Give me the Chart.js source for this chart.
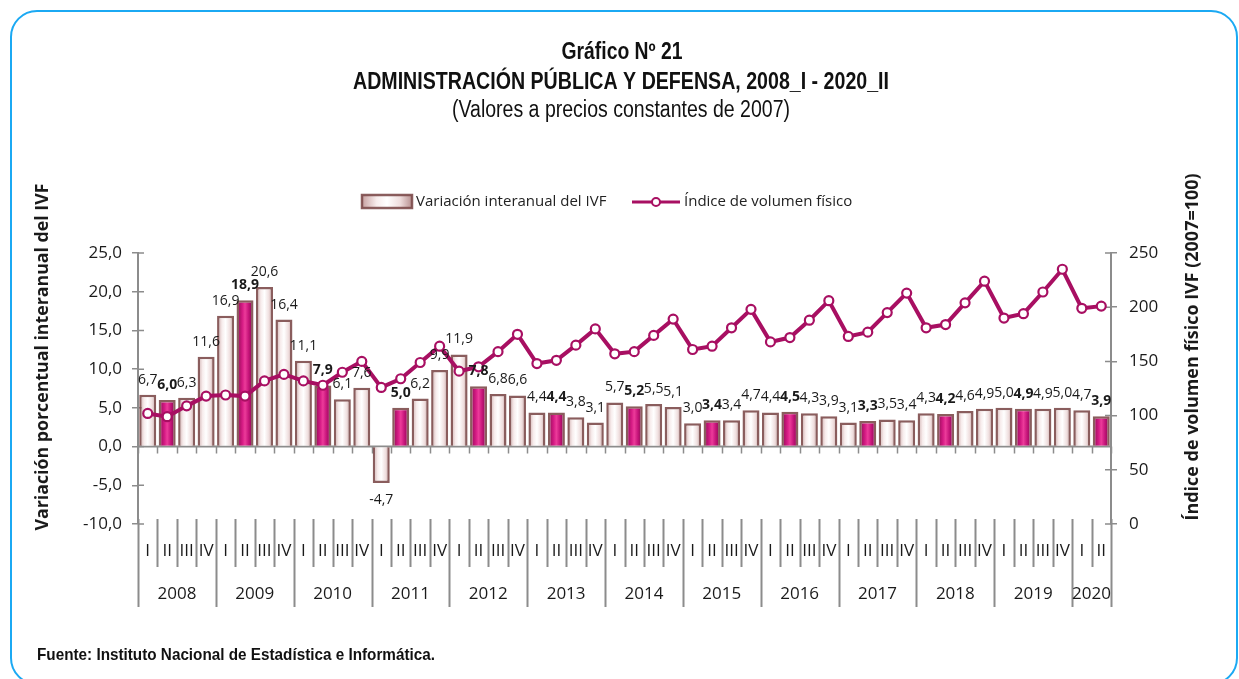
<!DOCTYPE html>
<html>
<head>
<meta charset="utf-8">
<script src="https://cdn.jsdelivr.net/npm/chart.js@4.4.1/dist/chart.umd.min.js"></script>
<style>
    html, body { margin: 0; padding: 0; background: #fff; }
    #wrap { width: 1239px; height: 679px; }
</style>
</head>
<body>
<div id="wrap"><canvas id="chart" width="1239" height="679"></canvas></div>
<script>
// Datos del gráfico
const years = ['2008', '2009', '2010', '2011', '2012', '2013', '2014', '2015', '2016', '2017', '2018', '2019', '2020'];
const quarters = ['I', 'II', 'III', 'IV'];

// Variación interanual del IVF (%)
const variacion = [
    6.7, 6.0, 6.3, 11.6,
    16.9, 18.9, 20.6, 16.4,
    11.1, 7.9, 6.1, 7.6,
    -4.7, 5.0, 6.2, 9.9,
    11.9, 7.8, 6.8, 6.6,
    4.4, 4.4, 3.8, 3.1,
    5.7, 5.2, 5.5, 5.1,
    3.0, 3.4, 3.4, 4.7,
    4.4, 4.5, 4.3, 3.9,
    3.1, 3.3, 3.5, 3.4,
    4.3, 4.2, 4.6, 4.9,
    5.0, 4.9, 4.9, 5.0,
    4.7, 3.9
];

// Índice de volumen físico (2007=100)
const indice = [
    102, 99, 109, 118,
    119, 118, 132, 138,
    132, 128, 140, 150,
    126, 134, 149, 164,
    141, 145, 159, 175,
    148, 151, 165, 180,
    157, 159, 174, 189,
    161, 164, 181, 198,
    168, 172, 188, 206,
    173, 177, 195, 213,
    181, 184, 204, 224,
    190, 194, 214, 235,
    199, 201
];

const leftTicks = { min: -10, max: 25, step: 5 };
const rightTicks = { min: 0, max: 250, step: 50 };

// Etiquetas de categoría: año + trimestre
const labels = [];
const labelQuarter = [];
const labelYear = [];
years.forEach(y => quarters.forEach(q => {
    if (labels.length < variacion.length) {
        labels.push(y + ' ' + q);
        labelQuarter.push(q);
        labelYear.push(y);
    }
}));
// barras destacadas: segundo trimestre
const destacado = labelQuarter.map(q => q === 'II');

const colors = {
    line: '#a80f62',
    axis: '#8c8c8c',
    text: '#1a1a1a',
    frame: '#1ba9f3',
    barBorder: 'rgba(125, 75, 75, 0.9)'
};

const FONT = "'Open Sans', 'DejaVu Sans', sans-serif";
const NARROW = "'Liberation Sans', Arial, sans-serif";

function fitFont(ctx, text, weight, family, width) {
    ctx.font = weight + ' 100px ' + family;
    const w = ctx.measureText(text).width;
    return weight + ' ' + (100 * width / w).toFixed(2) + 'px ' + family;
}

// texto condensado: tamaño fijo, ancho ajustado con escala horizontal
function condensedText(ctx, text, font, x, y, width, align) {
    ctx.save();
    ctx.font = font;
    const w = ctx.measureText(text).width;
    const k = width / w;
    ctx.translate(x, y);
    ctx.scale(k, 1);
    ctx.textAlign = align;
    ctx.fillText(text, 0, 0);
    ctx.restore();
}

function barGradient(ctx, cx, half, dark) {
    const g = ctx.createLinearGradient(cx - half, 0, cx + half, 0);
    if (dark) {
        g.addColorStop(0, '#7d0b49');
        g.addColorStop(0.35, '#d51a84');
        g.addColorStop(0.5, '#ec3b9a');
        g.addColorStop(0.7, '#c6147a');
        g.addColorStop(1, '#6e0840');
    } else {
        g.addColorStop(0, '#c49c9c');
        g.addColorStop(0.3, '#f7ecec');
        g.addColorStop(0.5, '#ffffff');
        g.addColorStop(0.75, '#efdede');
        g.addColorStop(1, '#b38a8a');
    }
    return g;
}

function barFill(context) {
    const chart = context.chart;
    const xs = chart.scales.x;
    if (!chart.chartArea || !xs || context.dataIndex === undefined) return '#f3e4e4';
    const cx = xs.getPixelForValue(context.dataIndex);
    return barGradient(chart.ctx, cx, 9, destacado[context.dataIndex]);
}

const decoPlugin = {
    id: 'deco',
    beforeDraw(chart) {
        const ctx = chart.ctx;
        ctx.save();
        // marco redondeado
        ctx.strokeStyle = colors.frame;
        ctx.lineWidth = 2;
        const x0 = 11, y0 = 11, x1 = 1237, y1 = 684, r = 26;
        ctx.beginPath();
        ctx.moveTo(x0 + r, y0);
        ctx.arcTo(x1, y0, x1, y1, r);
        ctx.arcTo(x1, y1, x0, y1, r);
        ctx.arcTo(x0, y1, x0, y0, r);
        ctx.arcTo(x0, y0, x1, y0, r);
        ctx.closePath();
        ctx.stroke();

        // títulos
        ctx.fillStyle = '#111';
        ctx.textBaseline = 'middle';
        condensedText(ctx, 'Gráfico Nº 21', 'bold 23px ' + NARROW, 622, 53, 121, 'center');
        condensedText(ctx, 'ADMINISTRACIÓN PÚBLICA Y DEFENSA, 2008_I - 2020_II', 'bold 23px ' + NARROW, 621, 83, 536, 'center');
        condensedText(ctx, '(Valores a precios constantes de 2007)', 'normal 23px ' + NARROW, 621, 111, 338, 'center');

        // leyenda
        ctx.fillStyle = barGradient(ctx, 387, 26, false);
        ctx.fillRect(362, 195, 50, 13);
        ctx.strokeStyle = colors.barBorder;
        ctx.lineWidth = 2.5;
        ctx.strokeRect(362, 195, 50, 13);
        ctx.fillStyle = '#222';
        ctx.textAlign = 'left';
        ctx.font = '15px ' + FONT;
        ctx.fillText('Variación interanual del IVF', 416, 202);
        ctx.strokeStyle = colors.line;
        ctx.lineWidth = 3;
        ctx.beginPath();
        ctx.moveTo(632, 202);
        ctx.lineTo(680, 202);
        ctx.stroke();
        ctx.beginPath();
        ctx.arc(656, 202, 4, 0, Math.PI * 2);
        ctx.fillStyle = '#fff';
        ctx.fill();
        ctx.lineWidth = 2;
        ctx.stroke();
        ctx.fillStyle = '#222';
        ctx.fillText('Índice de volumen físico', 684, 202);

        // títulos de ejes
        const ta = 'Variación porcentual interanual del IVF';
        const tb = 'Índice de volumen físico IVF (2007=100)';
        ctx.fillStyle = colors.text;
        ctx.textAlign = 'center';
        ctx.save();
        ctx.translate(43, 357);
        ctx.rotate(-Math.PI / 2);
        ctx.font = fitFont(ctx, ta, 'bold', FONT, 347);
        ctx.fillText(ta, 0, 0);
        ctx.restore();
        ctx.save();
        ctx.translate(1193, 347);
        ctx.rotate(-Math.PI / 2);
        ctx.font = fitFont(ctx, tb, 'bold', FONT, 347);
        ctx.fillText(tb, 0, 0);
        ctx.restore();

        // fuente
        ctx.fillStyle = '#111';
        condensedText(ctx, 'Fuente: Instituto Nacional de Estadística e Informática.', 'bold 17px ' + NARROW, 37, 655, 398, 'left');
        ctx.restore();
    },
    beforeDatasetsDraw(chart) {
        const ctx = chart.ctx;
        const area = chart.chartArea;
        const xs = chart.scales.x;
        const ys = chart.scales.y;
        const ys1 = chart.scales.y1;
        const half = (xs.getPixelForValue(1) - xs.getPixelForValue(0)) / 2;
        ctx.save();
        ctx.strokeStyle = colors.axis;
        // eje de categorías en cero
        const yZero = ys.getPixelForValue(0);
        ctx.lineWidth = 2;
        ctx.beginPath();
        ctx.moveTo(area.left, yZero);
        ctx.lineTo(area.right, yZero);
        ctx.stroke();
        ctx.lineWidth = 1.5;
        ctx.beginPath();
        for (let i = 0; i <= labels.length; i++) {
            const x = Math.round(xs.getPixelForValue(i) - half) + 0.5;
            ctx.moveTo(x, yZero);
            ctx.lineTo(x, yZero + 7);
        }
        // marcas interiores de los ejes verticales
        ys.ticks.forEach(t => {
            const y = ys.getPixelForValue(t.value);
            ctx.moveTo(area.left, y);
            ctx.lineTo(area.left + 6, y);
        });
        ys1.ticks.forEach(t => {
            const y = ys1.getPixelForValue(t.value);
            ctx.moveTo(area.right - 6, y);
            ctx.lineTo(area.right, y);
        });
        ctx.stroke();
        ctx.restore();
    },
    afterDatasetsDraw(chart) {
        const ctx = chart.ctx;
        const meta = chart.getDatasetMeta(1);
        ctx.save();
        ctx.fillStyle = colors.text;
        ctx.textAlign = 'center';
        ctx.textBaseline = 'middle';
        meta.data.forEach((bar, i) => {
            const v = variacion[i];
            const txt = v.toFixed(1).replace('.', ',');
            ctx.font = (destacado[i] ? 'bold ' : '') + '14px ' + FONT;
            const y = v >= 0 ? bar.y - 15 : bar.y + 17;
            ctx.fillText(txt, bar.x, y);
        });
        ctx.restore();
    },
    afterDraw(chart) {
        const ctx = chart.ctx;
        const xs = chart.scales.x;
        const half = (xs.getPixelForValue(1) - xs.getPixelForValue(0)) / 2;
        ctx.save();
        ctx.strokeStyle = colors.axis;
        ctx.lineWidth = 2;
        ctx.beginPath();
        for (let i = 0; i <= labels.length; i++) {
            const x = Math.round(xs.getPixelForValue(i) - half) + 0.5;
            const isYear = i === 0 || i === labels.length || labelQuarter[i] === 'I';
            ctx.moveTo(x, 519);
            ctx.lineTo(x, isYear ? 607 : 567);
        }
        ctx.stroke();
        ctx.fillStyle = colors.text;
        ctx.textAlign = 'center';
        ctx.textBaseline = 'middle';
        ctx.font = '17px ' + FONT;
        labels.forEach((l, i) => {
            ctx.fillText(labelQuarter[i], xs.getPixelForValue(i), 551);
        });
        years.forEach(y => {
            const idx = labelYear.map((v, i) => v === y ? i : -1).filter(i => i >= 0);
            if (!idx.length) return;
            const cx = (xs.getPixelForValue(idx[0]) + xs.getPixelForValue(idx[idx.length - 1])) / 2;
            ctx.fillText(y, cx, 594);
        });
        ctx.restore();
    }
};

const ctx = document.getElementById('chart').getContext('2d');
new Chart(ctx, {
    type: 'bar',
    data: {
        labels: labels,
        datasets: [
            {
                type: 'line',
                label: 'Índice de volumen físico',
                data: indice,
                yAxisID: 'y1',
                borderColor: colors.line,
                borderWidth: 4,
                pointRadius: 4.5,
                pointBackgroundColor: '#ffffff',
                pointBorderColor: colors.line,
                pointBorderWidth: 2.2,
                tension: 0,
                order: 0
            },
            {
                type: 'bar',
                label: 'Variación interanual del IVF',
                data: variacion,
                yAxisID: 'y',
                backgroundColor: barFill,
                borderColor: colors.barBorder,
                borderWidth: 2.5,
                barPercentage: 0.95,
                categoryPercentage: 0.92,
                order: 1
            }
        ]
    },
    options: {
        responsive: false,
        devicePixelRatio: 1,
        animation: false,
        layout: { padding: { top: 253, bottom: 155, left: 0, right: 0 } },
        plugins: {
            legend: { display: false },
            title: { display: false },
            tooltip: { enabled: false }
        },
        scales: {
            x: { display: false, offset: true },
            y: {
                position: 'left',
                min: leftTicks.min,
                max: leftTicks.max,
                ticks: {
                    stepSize: leftTicks.step,
                    color: colors.text,
                    padding: 10,
                    font: { family: FONT, size: 17 },
                    callback: (v) => v.toFixed(1).replace('.', ',')
                },
                grid: { drawOnChartArea: false, tickLength: 6, color: colors.axis, lineWidth: 1.5 },
                border: { color: colors.axis, width: 2 },
                afterFit: (s) => { s.width = 138; }
            },
            y1: {
                position: 'right',
                min: rightTicks.min,
                max: rightTicks.max,
                ticks: {
                    stepSize: rightTicks.step,
                    color: colors.text,
                    padding: 12,
                    font: { family: FONT, size: 17 }
                },
                grid: { drawOnChartArea: false, tickLength: 6, color: colors.axis, lineWidth: 1.5 },
                border: { color: colors.axis, width: 2 },
                afterFit: (s) => { s.width = 128; }
            }
        }
    },
    plugins: [decoPlugin]
});
</script>
</body>
</html>
